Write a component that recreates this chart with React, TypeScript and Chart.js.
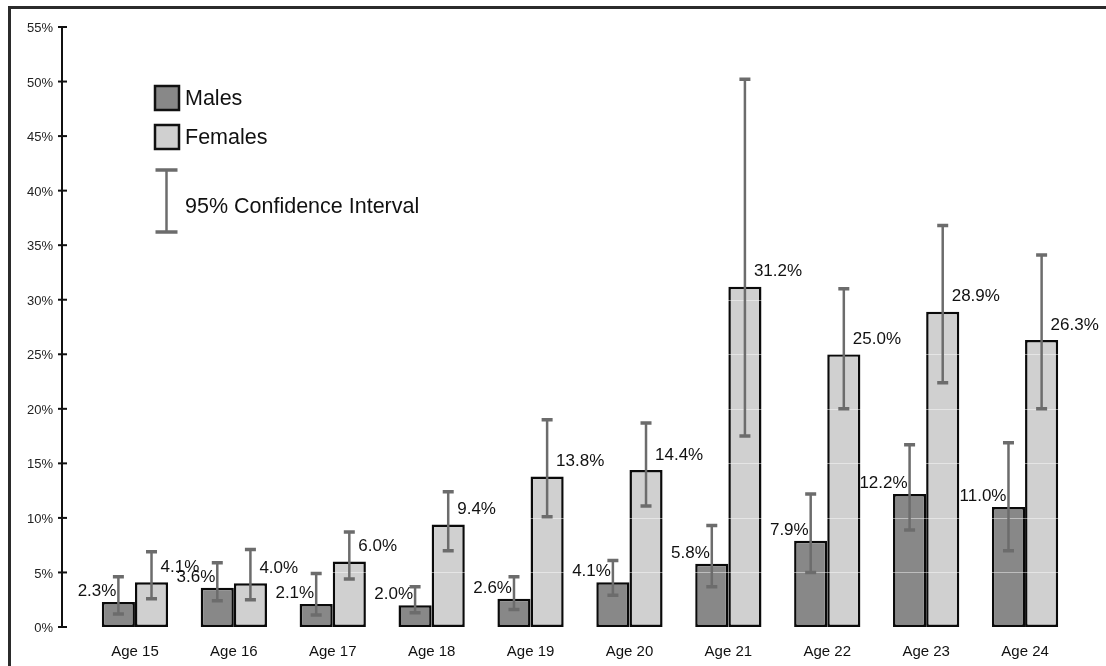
import { useEffect, useRef } from 'react';
import { Chart, registerables } from 'chart.js';

Chart.register(...registerables);

const categories = ['Age 15', 'Age 16', 'Age 17', 'Age 18', 'Age 19', 'Age 20', 'Age 21', 'Age 22', 'Age 23', 'Age 24'];
const males = [2.3, 3.6, 2.1, 2.0, 2.6, 4.1, 5.8, 7.9, 12.2, 11.0];
const females = [4.1, 4.0, 6.0, 9.4, 13.8, 14.4, 31.2, 25.0, 28.9, 26.3];
const malesLow = [1.2, 2.4, 1.1, 1.3, 1.6, 2.9, 3.7, 5.0, 8.9, 7.0];
const malesHigh = [4.6, 5.9, 4.9, 3.7, 4.6, 6.1, 9.3, 12.2, 16.7, 16.9];
const femalesLow = [2.6, 2.5, 4.4, 7.0, 10.1, 11.1, 17.5, 20.0, 22.4, 20.0];
const femalesHigh = [6.9, 7.1, 8.7, 12.4, 19.0, 18.7, 50.2, 31.0, 36.8, 34.1];
const yTicks = [0, 5, 10, 15, 20, 25, 30, 35, 40, 45, 50, 55];
const seriesNames = ['Males', 'Females'];
const ciLabel = '95% Confidence Interval';

const FONT = '"Liberation Sans", Arial, Helvetica, sans-serif';
const MALE_FILL = '#888888';
const FEMALE_FILL = '#d0d0d0';
const ERR_COLOR = '#6c6c6c';

export default function App() {
  const ref = useRef<HTMLCanvasElement>(null);

  useEffect(() => {
    const canvas = ref.current!;

    const yAxisPlugin = {
      id: 'yAxisCustom',
      afterDraw(chart: any) {
        const ctx = chart.ctx;
        const y = chart.scales.y;
        const ax = chart.chartArea.left - 23.5;
        ctx.save();
        ctx.strokeStyle = '#111';
        ctx.lineWidth = 2;
        ctx.beginPath();
        ctx.moveTo(ax, y.getPixelForValue(yTicks[yTicks.length - 1]));
        ctx.lineTo(ax, y.getPixelForValue(0));
        ctx.stroke();
        ctx.font = `13px ${FONT}`;
        ctx.fillStyle = '#222';
        ctx.textAlign = 'right';
        ctx.textBaseline = 'middle';
        yTicks.forEach((v) => {
          const py = y.getPixelForValue(v);
          ctx.beginPath();
          ctx.moveTo(ax - 4, py);
          ctx.lineTo(ax + 5, py);
          ctx.stroke();
          ctx.fillText(`${v}%`, ax - 9, py + 1.5);
        });
        ctx.restore();
      },
    };

    const gridOverBars = {
      id: 'gridOverBars',
      afterDatasetsDraw(chart: any) {
        const ctx = chart.ctx;
        const y = chart.scales.y;
        const { left, right } = chart.chartArea;
        ctx.save();
        ctx.strokeStyle = 'rgba(255,255,255,0.45)';
        ctx.lineWidth = 1;
        yTicks.slice(1).forEach((v) => {
          const py = Math.round(y.getPixelForValue(v)) + 0.5;
          ctx.beginPath();
          ctx.moveTo(left, py);
          ctx.lineTo(right, py);
          ctx.stroke();
        });
        ctx.restore();
      },
    };

    const errorBarsPlugin = {
      id: 'errorBars',
      afterDatasetsDraw(chart: any) {
        const ctx = chart.ctx;
        const y = chart.scales.y;
        const lows = [malesLow, femalesLow];
        const highs = [malesHigh, femalesHigh];
        ctx.save();
        ctx.strokeStyle = ERR_COLOR;
        [0, 1].forEach((di) => {
          const meta = chart.getDatasetMeta(di);
          meta.data.forEach((bar: any, i: number) => {
            const x = bar.x;
            const yl = y.getPixelForValue(lows[di][i]);
            const yh = y.getPixelForValue(highs[di][i]);
            ctx.lineWidth = 2.5;
            ctx.beginPath();
            ctx.moveTo(x, yh);
            ctx.lineTo(x, yl);
            ctx.stroke();
            ctx.lineWidth = 3.5;
            ctx.beginPath();
            ctx.moveTo(x - 5.5, yh);
            ctx.lineTo(x + 5.5, yh);
            ctx.moveTo(x - 5.5, yl);
            ctx.lineTo(x + 5.5, yl);
            ctx.stroke();
          });
        });
        // value labels
        ctx.font = `17px ${FONT}`;
        ctx.fillStyle = '#111';
        ctx.textBaseline = 'middle';
        chart.getDatasetMeta(0).data.forEach((bar: any, i: number) => {
          ctx.textAlign = 'right';
          ctx.fillText(`${males[i].toFixed(1)}%`, bar.x - 2, bar.y - 10.5);
        });
        chart.getDatasetMeta(1).data.forEach((bar: any, i: number) => {
          ctx.textAlign = 'left';
          ctx.fillText(`${females[i].toFixed(1)}%`, bar.x + 9, bar.y - 15);
        });
        ctx.restore();
      },
    };

    const legendPlugin = {
      id: 'customLegend',
      afterDraw(chart: any) {
        const ctx = chart.ctx;
        ctx.save();
        const sx = 155;
        const fills = [MALE_FILL, FEMALE_FILL];
        const tops = [86, 125];
        ctx.font = `21.5px ${FONT}`;
        ctx.textBaseline = 'middle';
        ctx.textAlign = 'left';
        seriesNames.forEach((name, i) => {
          ctx.fillStyle = fills[i];
          ctx.fillRect(sx, tops[i], 24, 24);
          ctx.strokeStyle = '#111';
          ctx.lineWidth = 2.5;
          ctx.strokeRect(sx, tops[i], 24, 24);
          ctx.fillStyle = '#111';
          ctx.fillText(name, 185, tops[i] + 13);
        });
        // CI icon
        const cx = 166.5;
        ctx.strokeStyle = ERR_COLOR;
        ctx.lineWidth = 2.5;
        ctx.beginPath();
        ctx.moveTo(cx, 170);
        ctx.lineTo(cx, 232);
        ctx.stroke();
        ctx.lineWidth = 3.5;
        ctx.beginPath();
        ctx.moveTo(cx - 11, 170);
        ctx.lineTo(cx + 11, 170);
        ctx.moveTo(cx - 11, 232);
        ctx.lineTo(cx + 11, 232);
        ctx.stroke();
        ctx.fillStyle = '#111';
        ctx.fillText(ciLabel, 185, 207);
        ctx.restore();
      },
    };

    const chart = new Chart(canvas, {
      type: 'bar',
      data: {
        labels: categories,
        datasets: [
          {
            label: seriesNames[0],
            data: males,
            backgroundColor: MALE_FILL,
            borderColor: '#0a0a0a',
            borderWidth: 2.5,
            borderSkipped: false,
            categoryPercentage: 0.67,
            barPercentage: 1,
          },
          {
            label: seriesNames[1],
            data: females,
            backgroundColor: FEMALE_FILL,
            borderColor: '#0a0a0a',
            borderWidth: 2.5,
            borderSkipped: false,
            categoryPercentage: 0.67,
            barPercentage: 1,
          },
        ],
      },
      options: {
        responsive: false,
        animation: false,
        layout: { padding: { left: 85.5, right: 31.5, top: 27, bottom: 0 } },
        scales: {
          x: {
            grid: { display: false, drawTicks: false },
            border: { display: false },
            ticks: { font: { family: FONT, size: 15 }, color: '#111', padding: 16, maxRotation: 0 },
            afterFit: (scale: any) => {
              scale.height = 39;
            },
          },
          y: { display: false, min: 0, max: 55 },
        },
        plugins: { legend: { display: false }, tooltip: { enabled: false } },
      },
      plugins: [gridOverBars, errorBarsPlugin, yAxisPlugin, legendPlugin],
    });

    return () => chart.destroy();
  }, []);

  return (
    <div>
      <canvas
        ref={ref}
        width={1106}
        height={666}
        style={{ position: 'fixed', left: 0, top: 0, background: '#fff' }}
      />
      <div
        style={{
          position: 'fixed',
          left: 8,
          top: 6,
          width: 1200,
          height: 800,
          borderLeft: '3px solid #2b2b2b',
          borderTop: '3px solid #2b2b2b',
          pointerEvents: 'none',
        }}
      />
    </div>
  );
}
